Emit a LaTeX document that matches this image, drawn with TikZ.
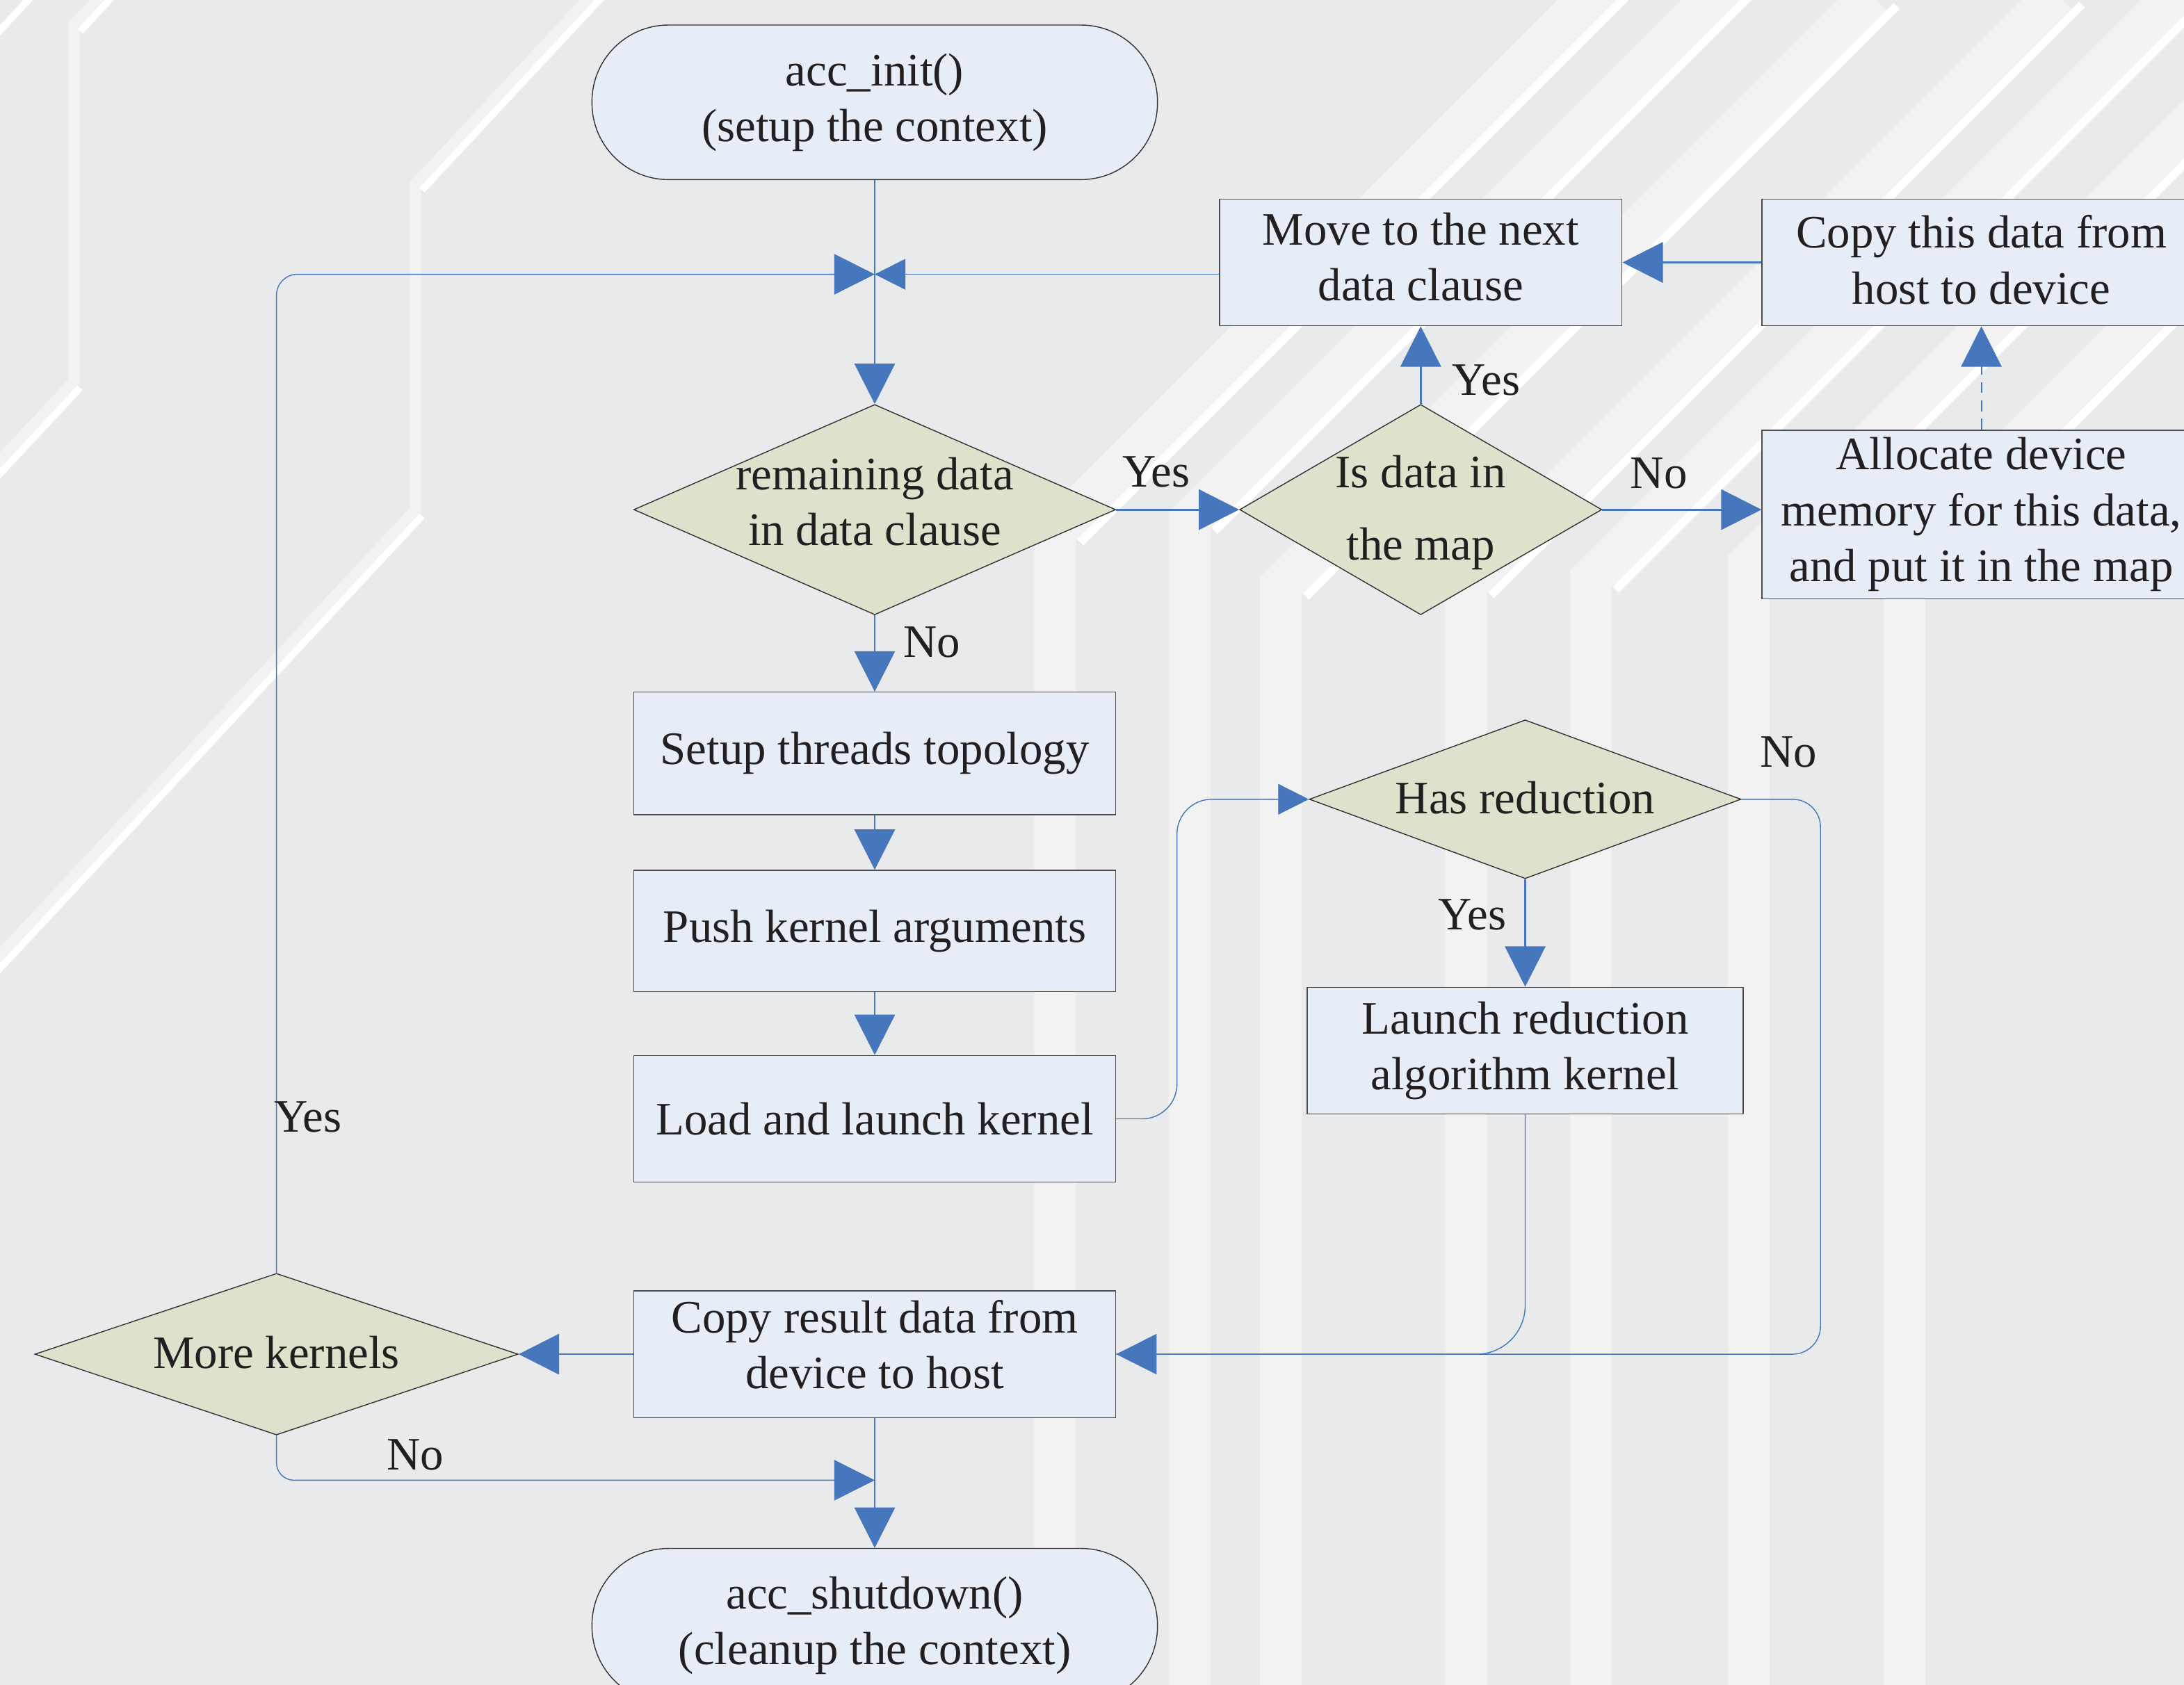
\documentclass[tikz,border=0pt]{standalone}
\usepackage{fontspec}
\setmainfont{Liberation Serif}
\usetikzlibrary{shapes.geometric}
\usetikzlibrary{arrows.meta}

\definecolor{bgcol}{RGB}{233,234,235}
\definecolor{bandcol}{RGB}{241,242,241}
\definecolor{boxcol}{RGB}{230,237,247}
\definecolor{deccol}{RGB}{221,226,204}
\definecolor{flowcol}{RGB}{70,118,188}
\definecolor{inkcol}{RGB}{35,31,32}

% text of a decision node, kept out of the diamond's size
\newcommand{\dtext}[2][-5.5pt]{\smash{\raisebox{#1}{\makebox[0pt]{\begin{tabular}{@{}c@{}}#2\end{tabular}}}}}

\tikzset{
  process/.style={rectangle, draw=black!70, line width=0.4pt, fill=boxcol, align=center, inner sep=1pt},
  decision/.style={diamond, draw=black!80, line width=0.4pt, fill=deccol, inner sep=0pt},
  terminal/.style={rectangle, rounded corners=1.1cm, draw=black!80, line width=0.4pt, fill=boxcol, align=center, minimum width=8.12cm, minimum height=2.22cm},
  answer/.style={inner sep=0pt},
  flow/.style={draw=flowcol, line width=0.8pt},
  thinflow/.style={draw=flowcol, line width=0.4pt},
  bigtip/.style={-{Triangle[length=0.58cm,width=0.58cm]}},
  smalltip/.style={-{Triangle[length=0.44cm,width=0.44cm]}},
  band/.style={draw=bandcol, line width=0.6cm},
  thinband/.style={draw=bandcol, line width=0.16cm},
  glint/.style={draw=white, line width=0.12cm}
}

\begin{document}
\begin{tikzpicture}[every node/.style={font=\fontsize{19}{22.8}\selectfont, text=inkcol}]
    \fill[bgcol] (0,0) rectangle (31.36,24.2);
    \useasboundingbox (0,0) rectangle (31.36,24.2);

    % background traces
    \foreach \x/\t in {15.15/16.56, 17.08/16.72, 18.39/15.78, 21.05/15.8, 22.84/15.88, 25.11/16.1, 27.35/16.2}{
        \draw[band] (\x,-1) -- (\x,\t) -- ++(45:12);
        \draw[glint] (\x+0.36,\t-0.15) -- ++(45:12);
    }
    \draw[thinband] (5.97,16.88) ++(227:10) -- (5.97,16.88) -- (5.97,21.56) -- ++(47:5);
    \draw[glint, line width=0.1cm] (6.06,16.79) -- ++(227:10);
    \draw[glint, line width=0.1cm] (6.06,21.47) -- ++(47:5);
    \draw[thinband] (1.06,18.72) ++(227:3) -- (1.06,18.72) -- (1.06,23.84) -- ++(47:2);
    \draw[glint, line width=0.1cm] (1.15,18.63) -- ++(227:3);
    \draw[glint, line width=0.1cm] (1.15,23.75) -- ++(47:2);
    \draw[glint, line width=0.1cm] (-0.2,23.55) -- ++(47:1.5);

    % nodes
    \node[terminal] (init) at (12.56,22.73) {acc\_init()\\(setup the context)};
    \coordinate (merge) at (12.56,20.26);
    \node[decision, minimum width=6.92cm, minimum height=3.02cm] (remain) at (12.56,16.88) {\dtext[-3pt]{remaining data\\in data clause}};
    \node[decision, minimum width=5.2cm, minimum height=3.02cm] (isdata) at (20.4,16.88) {\dtext{Is data in\\[6.7pt]the map}};
    \node[process, minimum width=5.78cm, minimum height=1.82cm, text depth=0.16cm] (move) at (20.4,20.43) {Move to the next\\data clause};
    \node[process, minimum width=6.3cm, minimum height=1.82cm, text depth=0.08cm] (copy) at (28.45,20.43) {Copy this data from\\host to device};
    \node[process, minimum width=6.3cm, minimum height=2.42cm] (alloc) at (28.45,16.81) {Allocate device\\memory for this data,\\and put it in the map};
    \node[process, minimum width=6.92cm, minimum height=1.76cm] (setup) at (12.56,13.38) {Setup threads topology};
    \node[process, minimum width=6.92cm, minimum height=1.74cm] (push) at (12.56,10.83) {Push kernel arguments};
    \node[process, minimum width=6.92cm, minimum height=1.82cm] (load) at (12.56,8.13) {Load and launch kernel};
    \node[decision, minimum width=6.2cm, minimum height=2.28cm] (hasred) at (21.9,12.72) {\dtext{Has reduction}};
    \node[process, minimum width=6.26cm, minimum height=1.82cm] (launch) at (21.9,9.11) {Launch reduction\\algorithm kernel};
    \node[process, minimum width=6.92cm, minimum height=1.82cm, text depth=0.28cm] (copyres) at (12.56,4.75) {Copy result data from\\device to host};
    \node[decision, minimum width=6.94cm, minimum height=2.32cm] (more) at (3.97,4.75) {\dtext{More kernels}};
    \node[terminal] (shutdown) at (12.56,0.85) {acc\_shutdown()\\(cleanup the context)};
    \coordinate (bend) at (16.9,12.72);
    \coordinate (noturn) at (26.14,4.75);
    \coordinate (nojoin) at (12.56,2.94);

    % connectors
    \draw[flow, bigtip] (init) -- (remain);
    \draw[thinflow, bigtip, rounded corners=0.3cm] (more) |- (merge);
    \draw[thinflow, smalltip] (move.west |- merge) -- (merge);
    \draw[flow, bigtip] (remain) -- (isdata);
    \draw[flow, bigtip] (isdata) -- (move);
    \draw[flow, bigtip] (isdata.east) -- (isdata.east -| alloc.west);
    \draw[flow, bigtip, line width=0.6pt, dash pattern=on 4.5pt off 3pt] (alloc) -- (copy);
    \draw[flow, bigtip] (copy) -- (move);
    \draw[flow, bigtip] (remain) -- (setup);
    \draw[flow, bigtip] (setup) -- (push);
    \draw[flow, bigtip] (push) -- (load);
    \draw[thinflow, smalltip, rounded corners=0.5cm] (load.east) -| (bend) -- (hasred.west);
    \draw[flow, bigtip] (hasred) -- (launch);
    \draw[thinflow, bigtip, rounded corners=0.4cm] (hasred.east) -| (noturn) -- (copyres.east);
    \draw[thinflow, rounded corners=0.7cm] (launch) |- (copyres.east);
    \draw[flow, bigtip] (copyres) -- (more);
    \draw[flow, bigtip] (copyres) -- (shutdown);
    \draw[thinflow, bigtip, rounded corners=0.25cm] (more) |- (nojoin);

    % answers
    \node[answer] (yesmap) at (16.6,17.42) {Yes};
    \node[answer] (yesmove) at (21.34,18.74) {Yes};
    \node[answer] (noalloc) at (23.82,17.4) {No};
    \node[answer] (nosetup) at (13.38,14.98) {No};
    \node[answer] (yesred) at (21.14,11.06) {Yes};
    \node[answer] (nored) at (25.68,13.4) {No};
    \node[answer] (yesloop) at (4.42,8.16) {Yes};
    \node[answer] (noend) at (5.96,3.3) {No};
\end{tikzpicture}
\end{document}
